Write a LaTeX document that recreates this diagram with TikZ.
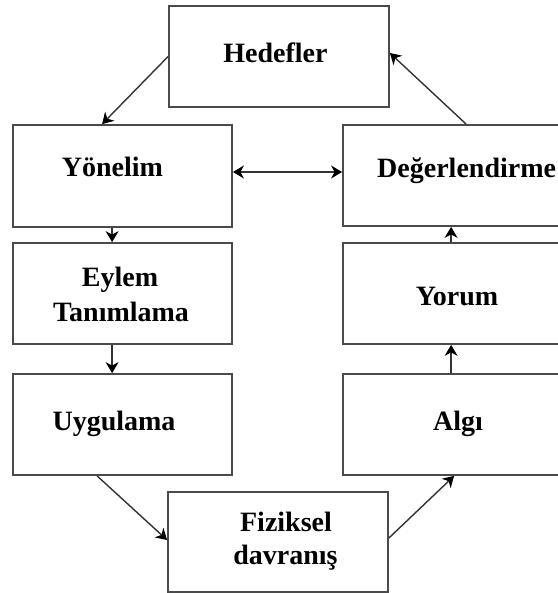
\documentclass[tikz,border=0pt]{standalone}
\usepackage{fontspec}
\setmainfont{Liberation Serif}
\usetikzlibrary{arrows.meta}
\begin{document}
\begin{tikzpicture}[x=1pt,y=-1pt,
  box/.style={draw=boxgray,line width=1.8pt,inner sep=0pt},
  lbl/.style={inner sep=0pt,anchor=base,font=\fontsize{28}{34}\selectfont\bfseries},
  conn/.style={draw=linegray,line width=1.4pt,
    arrows={-Stealth[length=11pt,width=13pt,inset=3.5pt,line width=1.2pt,color=black]}},
  twoway/.style={draw=linegray,line width=1.4pt,
    arrows={Stealth[length=11pt,width=13pt,inset=3.5pt,line width=1.2pt,color=black]-Stealth[length=11pt,width=13pt,inset=3.5pt,line width=1.2pt,color=black]}}]
\definecolor{boxgray}{HTML}{4A4A4A}
\definecolor{linegray}{HTML}{333333}
\useasboundingbox (0,0) rectangle (557,593);

% boxes
\node[box,minimum width=220pt,minimum height=101pt] (hed) at (279,56.5) {};
\node[box,minimum width=219pt,minimum height=102pt] (yon) at (122.5,176) {};
\node[box,minimum width=228pt,minimum height=101pt] (deg) at (457,175.5) {};
\node[box,minimum width=219pt,minimum height=101pt] (eyl) at (122.5,293.5) {};
\node[box,minimum width=228pt,minimum height=101pt] (yor) at (457,293.5) {};
\node[box,minimum width=219pt,minimum height=101pt] (uyg) at (122.5,424.5) {};
\node[box,minimum width=228pt,minimum height=101pt] (alg) at (457,424.5) {};
\node[box,minimum width=220pt,minimum height=100pt] (fiz) at (278,542) {};

% labels
\node[lbl] (thed) at (275.5,63) {Hedefler};
\node[lbl] (tyon) at (112.5,177) {Yönelim};
\node[lbl,anchor=base west] (tdeg) at (377,178) {Değerlendirme};
\node[lbl] (teyl1) at (120,286) {Eylem};
\node[lbl] (teyl2) at (121,321) {Tanımlama};
\node[lbl] (tyor) at (457,305) {Yorum};
\node[lbl] (tuyg) at (114,430) {Uygulama};
\node[lbl] (talg) at (458,430) {Algı};
\node[lbl] (tfiz1) at (286,531) {Fiziksel};
\node[lbl] (tfiz2) at (285.5,564) {davranış};

% connectors
\draw[conn] (hed.west) -- ([xshift=90pt]yon.north west);
\draw[conn] ([xshift=124pt]deg.north west) -- ([yshift=3.5pt]hed.east);
\draw[twoway] ([yshift=4pt]yon.east) -- ([yshift=3.5pt]deg.west);
\draw[conn] ([xshift=100pt]yon.south west) -- ([xshift=100pt]eyl.north west);
\draw[conn] ([xshift=100pt]eyl.south west) -- ([xshift=100pt]uyg.north west);
\draw[conn] ([xshift=85pt]uyg.south west) -- ([yshift=2pt]fiz.west);
\draw[conn] ([yshift=4pt]fiz.east) -- ([xshift=112pt]alg.south west);
\draw[conn] ([xshift=109pt]alg.north west) -- ([xshift=109pt]yor.south west);
\draw[conn] ([xshift=109pt]yor.north west) -- ([xshift=109pt]deg.south west);
\end{tikzpicture}
\end{document}
